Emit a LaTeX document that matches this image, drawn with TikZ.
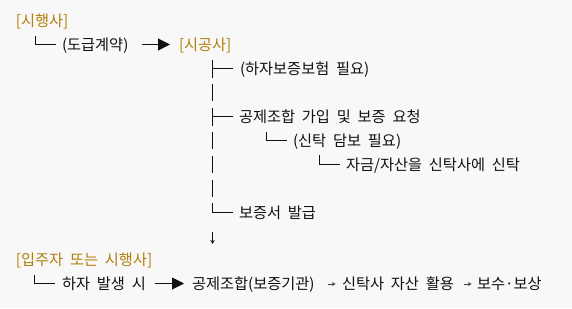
\documentclass[tikz,border=0pt]{standalone}
\usepackage{fontspec}
\setmainfont{Noto Sans CJK KR}[WordSpace=2.0]
\usetikzlibrary{arrows.meta}
\definecolor{bgc}{HTML}{F8F8F8}
\definecolor{gold}{HTML}{B07F0A}
\definecolor{txt}{HTML}{111111}
\tikzset{
  txtnode/.style={anchor=base west, inner sep=0pt, outer sep=0pt, text=txt, font=\fontsize{15.25}{17}\selectfont},
  hdr/.style={txtnode, text=gold},
  treeline/.style={draw=txt, line width=1pt},
  bigarrow/.style={draw=txt, line width=1pt, -{Triangle[length=12pt,width=12pt]}},
  smallarrow/.style={draw=txt!80, line width=0.8pt, -{Stealth[length=3.5pt,width=4pt]}},
}
\begin{document}
\begin{tikzpicture}[x=1pt,y=-1pt]
\useasboundingbox (0,0) rectangle (572,308);
\fill[bgc] (0,0) rectangle (572,308);

% line baselines: centre y_k = 21 + 23.9k, baseline = centre + 5.8
% k0
\node[hdr] (sihaeng) at (16,26.8) {[시행사]};
% k1
\coordinate (t1) at (35.5,44.9);
\draw[treeline] ([yshift=9]t1) |- ([xshift=20]t1);
\node[txtnode] (dogeup) at (62,50.7) {(도급계약)};
\coordinate (a1s) at (142,44.5);
\coordinate (a1e) at (170,44.5);
\draw[bigarrow] (a1s) -- (a1e);
\node[hdr] (sigong) at (179,50.7) {[시공사]};
% k2
\coordinate (t2) at (212.5,68.8);
\draw[treeline] ([yshift=9]t2) -- ([yshift=-9]t2);
\draw[treeline] (t2) -- ([xshift=20]t2);
\node[txtnode] (haja) at (240,74.6) {(하자보증보험 필요)};
% k3
\coordinate (t3) at (212.5,92.7);
\draw[treeline] ([yshift=8.5]t3) -- ([yshift=-8.5]t3);
% k4
\coordinate (t4) at (212.5,116.6);
\draw[treeline] ([yshift=9]t4) -- ([yshift=-9]t4);
\draw[treeline] (t4) -- ([xshift=20]t4);
\node[txtnode] (gongje) at (239,122.4) {공제조합 가입 및 보증 요청};
% k5
\coordinate (t5) at (212.5,140.5);
\draw[treeline] ([yshift=8.5]t5) -- ([yshift=-8.5]t5);
\coordinate (u5) at (266,140.5);
\draw[treeline] ([yshift=9]u5) |- ([xshift=21]u5);
\node[txtnode] (sintak) at (293,146.3) {(신탁 담보 필요)};
% k6
\coordinate (t6) at (212.5,164.4);
\draw[treeline] ([yshift=8.5]t6) -- ([yshift=-8.5]t6);
\coordinate (u6) at (319,164.4);
\draw[treeline] ([yshift=9]u6) |- ([xshift=21]u6);
\node[txtnode] (jageum) at (346,170.2) {자금/자산을 신탁사에 신탁};
% k7
\coordinate (t7) at (212.5,188.3);
\draw[treeline] ([yshift=8.5]t7) -- ([yshift=-8.5]t7);
% k8
\coordinate (t8) at (212.5,212.2);
\draw[treeline] ([yshift=9]t8) |- ([xshift=20]t8);
\node[txtnode] (bojeung) at (239,218.0) {보증서 발급};
% k9
\coordinate (d9s) at (212.5,231.5);
\coordinate (d9e) at (212.5,244);
\draw[draw=txt, line width=0.8pt, -{Stealth[length=4pt,width=4.5pt]}] (d9s) -- (d9e);
% k10
\node[hdr] (ipju) at (16,265.8) {[입주자 또는 시행사]};
% k11
\coordinate (t11) at (34.5,283.9);
\draw[treeline] ([yshift=9]t11) |- ([xshift=20]t11);
\node[txtnode] (balsaeng) at (62,289.7) {하자 발생 시};
\coordinate (a2s) at (155,283.5);
\coordinate (a2e) at (184,283.5);
\draw[bigarrow] (a2s) -- (a2e);
\node[txtnode] (gigwan) at (192,289.7) {공제조합(보증기관)};
\coordinate (s1s) at (328,284);
\coordinate (s1e) at (335.5,284);
\draw[smallarrow] (s1s) -- (s1e);
\node[txtnode] (hwalyong) at (342,289.7) {신탁사 자산 활용};
\coordinate (s2s) at (464,284);
\coordinate (s2e) at (471.5,284);
\draw[smallarrow] (s2s) -- (s2e);
\node[txtnode] (bosang) at (477,289.7) {보수·보상};
\end{tikzpicture}
\end{document}
